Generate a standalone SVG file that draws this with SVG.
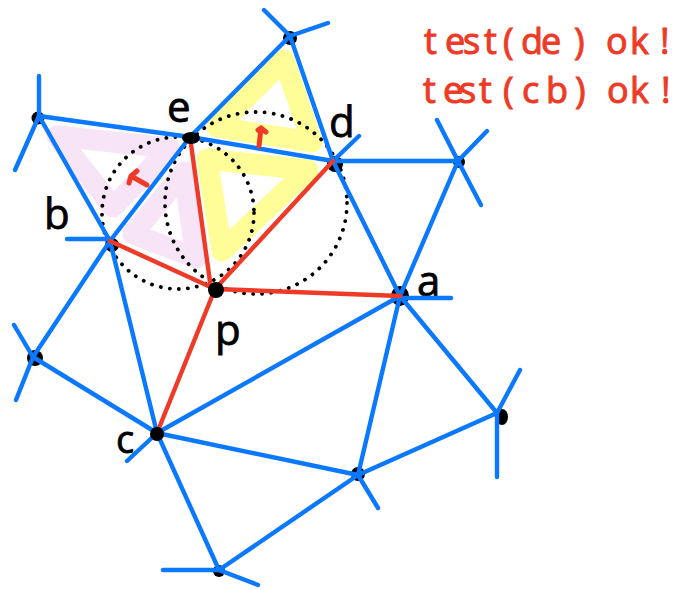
<svg xmlns="http://www.w3.org/2000/svg" width="689" height="590" viewBox="0 0 689 590">
<style>
.y{fill:none;stroke:#FFFD98;stroke-width:21;stroke-linejoin:round;stroke-linecap:round}
.k{fill:none;stroke:#F7E4F7;stroke-width:21;stroke-linejoin:round;stroke-linecap:round}
.e{fill:none;stroke:#0A78FF;stroke-width:4.4;stroke-linecap:round}
.r{fill:none;stroke:#EE3A26;stroke-width:4.4;stroke-linecap:round;stroke-linejoin:round}
.a{fill:none;stroke:#EE3A26;stroke-width:5;stroke-linecap:round;stroke-linejoin:round}
.c{fill:none;stroke:#000;stroke-width:3.8;stroke-linecap:round;stroke-dasharray:0.1 9}
.n{fill:#000}
.l{font-family:"Open Sans","Noto Sans",sans-serif;fill:#000;stroke:#000;stroke-width:.8;font-size:42px}
.t{font-family:"Open Sans","Noto Sans",sans-serif;fill:#EE3A26;stroke:#EE3A26;stroke-width:1;font-size:36px}
</style>
<rect width="689" height="590" fill="#fff"/>
<g id="shading">
<path class="k" d="M57 136L170 148L113 207Z"/>
<path class="k" d="M184 172L133 234L196 258Z"/>
<path class="y" d="M284 60L217 127L312 142Z"/>
<path class="y" d="M207 159L308 170L222 251Z"/>
</g>
<g id="circles">
<circle class="c" cx="178" cy="213" r="76"/>
<circle class="c" cx="256" cy="203" r="91"/>
</g>
<g id="node-top"><circle class="n" cx="290" cy="38" r="7"/></g>
<g id="node-topleft"><circle class="n" cx="38" cy="118" r="6.5"/></g>
<g id="node-left"><circle class="n" cx="35" cy="358" r="8"/></g>
<g id="node-bottom"><circle class="n" cx="219" cy="571" r="6"/></g>
<g id="node-lower"><circle class="n" cx="358" cy="474" r="7"/></g>
<g id="node-right"><ellipse class="n" cx="502" cy="417" rx="6" ry="8"/></g>
<g id="node-farright"><circle class="n" cx="459" cy="162" r="6"/></g>
<g id="node-d"><circle class="n" cx="335" cy="164" r="8"/><text class="l" x="329" y="137">d</text></g>
<g id="node-b"><circle class="n" cx="112" cy="245" r="7"/><text class="l" x="44" y="229">b</text></g>
<g id="node-a"><ellipse class="n" cx="400" cy="296" rx="9" ry="10"/><text class="l" x="417" y="296">a</text></g>
<g id="connectors">
<path class="e" d="M190 137L290 36M290 36L333 161M190 137L333 161M39 116L190 137M39 116L110 241M190 137L110 241M333 161L400 296M333 161L458 161M458 161L400 296M110 241L33 357M110 241L157 433M33 357L157 433M157 433L400 296M157 433L358 475M157 433L219 570M400 296L358 475M400 296L497 413M358 475L497 413M358 475L219 570"/>
<path class="e" d="M290 36L264 10M290 36L328 23M39 116L39 76M39 116L15 170M110 239L67 239M33 357L14 325M33 357L16 400M157 433L127 461M219 570L163 570M219 570L258 585M358 475L378 508M497 413L520 370M497 413L497 477M400 298L451 298M458 161L437 120M458 161L487 131M458 161L481 205M333 161L359 136"/>
<path class="r" d="M190 137L211 289M110 241L215 289M333 161L215 289M215 289L400 296M215 289L157 433"/>
<path class="a" d="M147 185L131 176L129 183M131 176L137 171M259 146L261 128L266 132M261 128L258 130"/>
</g>
<g id="node-e"><ellipse class="n" cx="191" cy="138" rx="9" ry="6"/><text class="l" x="167" y="122">e</text></g>
<g id="node-p"><circle class="n" cx="216" cy="290" r="8"/><text class="l" x="215" y="345">p</text></g>
<g id="node-c"><circle class="n" cx="157" cy="434" r="7"/><text class="l" x="116" y="453" style="font-size:38px">c</text></g>
<g id="caption">
<text class="t" x="424 445 463 484 503 521 541 574 590 606 630 650 660" y="54">test(de) ok !</text>
<text class="t" x="423 443 459 479 503 522 546 575 592 607 630 650 661" y="103">test(cb) ok !</text>
</g>
</svg>
